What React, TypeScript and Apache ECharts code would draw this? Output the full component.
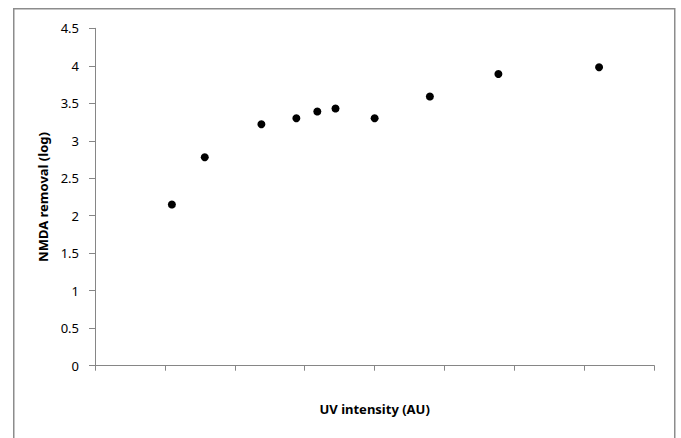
import React, { useEffect, useRef } from "react";
import * as echarts from "echarts";

const uvIntensity = [1.1, 1.57, 2.38, 2.88, 3.18, 3.44, 4.0, 4.79, 5.77, 7.21];
const nmdaRemoval = [2.15, 2.78, 3.22, 3.3, 3.39, 3.43, 3.3, 3.59, 3.89, 3.98];
const xTitle = "UV intensity (AU)";
const yTitle = "NMDA removal (log)";

export default function App() {
  const ref = useRef<HTMLDivElement>(null);
  useEffect(() => {
    if (!ref.current) return;
    const chart = echarts.init(ref.current, null, { renderer: "svg" });
    const font = "'Noto Sans', 'Open Sans', sans-serif";
    chart.setOption({
      animation: false,
      backgroundColor: "#ffffff",
      textStyle: { fontFamily: font },
      grid: { left: 95, top: 28.3, right: 26.7, bottom: 72.3 },
      graphic: {
        elements: [
          {
            type: "rect",
            z: 100,
            left: 13,
            top: 8,
            shape: { width: 661, height: 440 },
            style: { stroke: "#8c8c8c", lineWidth: 1.5, fill: "transparent" },
          },
        ],
      },
      xAxis: {
        type: "value",
        min: 0,
        max: 8,
        interval: 1,
        name: xTitle,
        nameLocation: "middle",
        nameGap: 37,
        nameTextStyle: { fontFamily: font, fontWeight: "bold", fontSize: 13, color: "#000" },
        axisLine: { lineStyle: { color: "#868686", width: 1 } },
        axisTick: { show: true, length: 5, lineStyle: { color: "#868686" } },
        axisLabel: { show: false },
        splitLine: { show: false },
      },
      yAxis: {
        type: "value",
        min: 0,
        max: 4.5,
        interval: 0.5,
        name: yTitle,
        nameLocation: "middle",
        nameGap: 44,
        nameRotate: 90,
        nameTextStyle: { fontFamily: font, fontWeight: "bold", fontSize: 13, color: "#000" },
        axisLine: { show: true, lineStyle: { color: "#868686", width: 1 } },
        axisTick: { show: true, length: 6, lineStyle: { color: "#868686" } },
        axisLabel: { margin: 16, fontFamily: font, fontSize: 13, color: "#000" },
        splitLine: { show: false },
      },
      series: [
        {
          type: "scatter",
          data: uvIntensity.map((x, i) => [x, nmdaRemoval[i]]),
          symbol: "circle",
          symbolSize: 8,
          itemStyle: { color: "#000000", opacity: 1 },
        },
      ],
    });
    return () => chart.dispose();
  }, []);
  return (
    <div
      ref={ref}
      style={{ position: "absolute", left: 0, top: 0, width: 681, height: 438 }}
    />
  );
}
